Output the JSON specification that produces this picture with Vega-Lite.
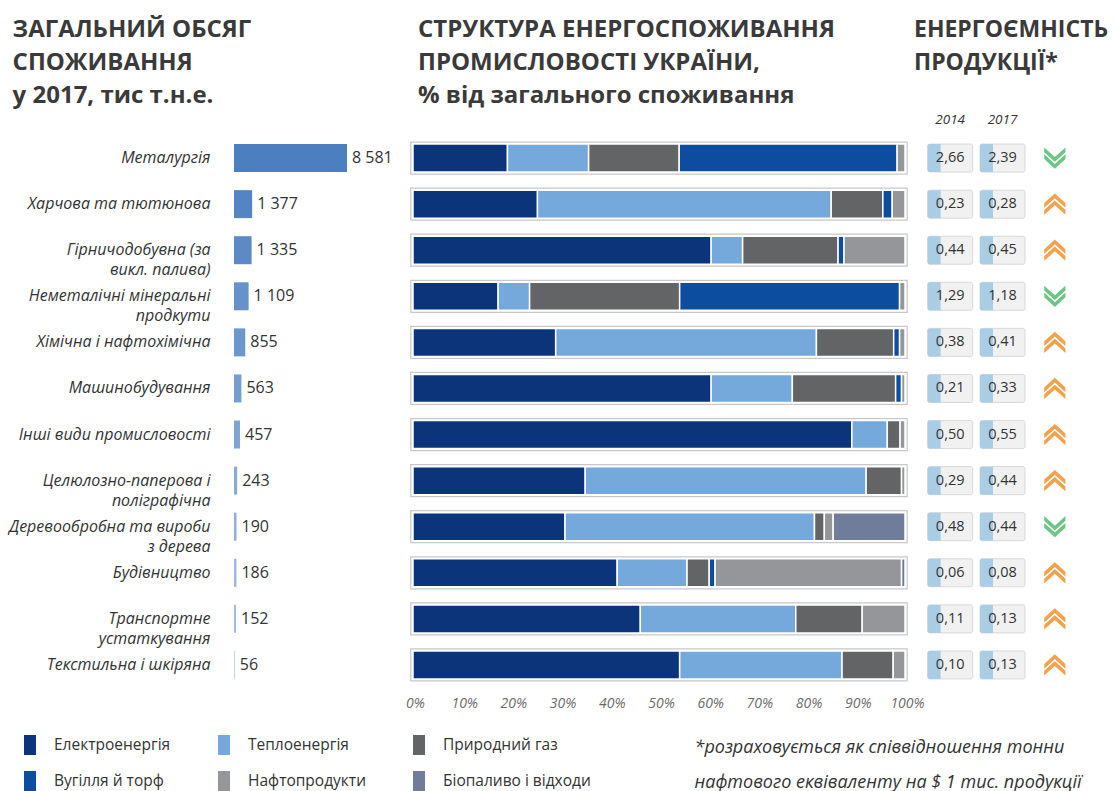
{
  "$schema": "https://vega.github.io/schema/vega-lite/v6.json",
  "background": "white",
  "padding": {"left": 8, "top": 18, "right": 0, "bottom": 0},
  "bounds": "flush",
  "spacing": 19,
  "config": {
    "locale": {"number": {"decimal": ",", "thousands": " ", "grouping": [3], "currency": ["", ""]}},
    "view": {"stroke": null},
    "font": "Open Sans",
    "title": {"font": "Open Sans", "fontSize": 24, "fontWeight": "bold", "color": "#3a3a3a", "anchor": "start", "lineHeight": 33}
  },
  "resolve": {"scale": {"color": "independent", "shape": "independent"}, "legend": {"color": "independent", "shape": "independent"}},
  "datasets": {
    "total": [
      {"industry": "Металургія", "total": 8581, "trend": "down"},
      {"industry": "Харчова та тютюнова", "total": 1377, "trend": "up"},
      {"industry": "Гірничодобувна (за|викл. палива)", "total": 1335, "trend": "up"},
      {"industry": "Неметалічні мінеральні|продкути", "total": 1109, "trend": "down"},
      {"industry": "Хімічна і нафтохімічна", "total": 855, "trend": "up"},
      {"industry": "Машинобудування", "total": 563, "trend": "up"},
      {"industry": "Інші види промисловості", "total": 457, "trend": "up"},
      {"industry": "Целюлозно-паперова і|поліграфічна", "total": 243, "trend": "up"},
      {"industry": "Деревообробна та вироби|з дерева", "total": 190, "trend": "down"},
      {"industry": "Будівництво", "total": 186, "trend": "up"},
      {"industry": "Транспортне|устаткування", "total": 152, "trend": "up"},
      {"industry": "Текстильна і шкіряна", "total": 56, "trend": "up"}
    ],
    "structure": [
      {"industry": "Металургія", "source": "Електроенергія", "share": 19.2},
      {"industry": "Металургія", "source": "Теплоенергія", "share": 16.5},
      {"industry": "Металургія", "source": "Природний газ", "share": 18.4},
      {"industry": "Металургія", "source": "Вугілля й торф", "share": 44.3},
      {"industry": "Металургія", "source": "Нафтопродукти", "share": 1.6},
      {"industry": "Харчова та тютюнова", "source": "Електроенергія", "share": 25.3},
      {"industry": "Харчова та тютюнова", "source": "Теплоенергія", "share": 59.7},
      {"industry": "Харчова та тютюнова", "source": "Природний газ", "share": 10.5},
      {"industry": "Харчова та тютюнова", "source": "Вугілля й торф", "share": 1.9},
      {"industry": "Харчова та тютюнова", "source": "Нафтопродукти", "share": 2.6},
      {"industry": "Гірничодобувна (за|викл. палива)", "source": "Електроенергія", "share": 60.6},
      {"industry": "Гірничодобувна (за|викл. палива)", "source": "Теплоенергія", "share": 6.4},
      {"industry": "Гірничодобувна (за|викл. палива)", "source": "Природний газ", "share": 19.4},
      {"industry": "Гірничодобувна (за|викл. палива)", "source": "Вугілля й торф", "share": 1.2},
      {"industry": "Гірничодобувна (за|викл. палива)", "source": "Нафтопродукти", "share": 12.4},
      {"industry": "Неметалічні мінеральні|продкути", "source": "Електроенергія", "share": 17.3},
      {"industry": "Неметалічні мінеральні|продкути", "source": "Теплоенергія", "share": 6.4},
      {"industry": "Неметалічні мінеральні|продкути", "source": "Природний газ", "share": 30.5},
      {"industry": "Неметалічні мінеральні|продкути", "source": "Вугілля й торф", "share": 44.7},
      {"industry": "Неметалічні мінеральні|продкути", "source": "Нафтопродукти", "share": 1.1},
      {"industry": "Хімічна і нафтохімічна", "source": "Електроенергія", "share": 29.0},
      {"industry": "Хімічна і нафтохімічна", "source": "Теплоенергія", "share": 53.0},
      {"industry": "Хімічна і нафтохімічна", "source": "Природний газ", "share": 15.7},
      {"industry": "Хімічна і нафтохімічна", "source": "Вугілля й торф", "share": 1.2},
      {"industry": "Хімічна і нафтохімічна", "source": "Нафтопродукти", "share": 1.1},
      {"industry": "Машинобудування", "source": "Електроенергія", "share": 60.6},
      {"industry": "Машинобудування", "source": "Теплоенергія", "share": 16.5},
      {"industry": "Машинобудування", "source": "Природний газ", "share": 21.0},
      {"industry": "Машинобудування", "source": "Вугілля й торф", "share": 1.2},
      {"industry": "Машинобудування", "source": "Нафтопродукти", "share": 0.7},
      {"industry": "Інші види промисловості", "source": "Електроенергія", "share": 89.2},
      {"industry": "Інші види промисловості", "source": "Теплоенергія", "share": 7.2},
      {"industry": "Інші види промисловості", "source": "Природний газ", "share": 2.6},
      {"industry": "Інші види промисловості", "source": "Нафтопродукти", "share": 1.0},
      {"industry": "Целюлозно-паперова і|поліграфічна", "source": "Електроенергія", "share": 35.0},
      {"industry": "Целюлозно-паперова і|поліграфічна", "source": "Теплоенергія", "share": 57.1},
      {"industry": "Целюлозно-паперова і|поліграфічна", "source": "Природний газ", "share": 7.2},
      {"industry": "Целюлозно-паперова і|поліграфічна", "source": "Нафтопродукти", "share": 0.7},
      {"industry": "Деревообробна та вироби|з дерева", "source": "Електроенергія", "share": 30.9},
      {"industry": "Деревообробна та вироби|з дерева", "source": "Теплоенергія", "share": 50.7},
      {"industry": "Деревообробна та вироби|з дерева", "source": "Природний газ", "share": 2.0},
      {"industry": "Деревообробна та вироби|з дерева", "source": "Нафтопродукти", "share": 1.8},
      {"industry": "Деревообробна та вироби|з дерева", "source": "Біопаливо і відходи", "share": 14.6},
      {"industry": "Будівництво", "source": "Електроенергія", "share": 41.5},
      {"industry": "Будівництво", "source": "Теплоенергія", "share": 14.2},
      {"industry": "Будівництво", "source": "Природний газ", "share": 4.5},
      {"industry": "Будівництво", "source": "Вугілля й торф", "share": 1.2},
      {"industry": "Будівництво", "source": "Нафтопродукти", "share": 37.9},
      {"industry": "Будівництво", "source": "Біопаливо і відходи", "share": 0.7},
      {"industry": "Транспортне|устаткування", "source": "Електроенергія", "share": 46.2},
      {"industry": "Транспортне|устаткування", "source": "Теплоенергія", "share": 31.6},
      {"industry": "Транспортне|устаткування", "source": "Природний газ", "share": 13.5},
      {"industry": "Транспортне|устаткування", "source": "Нафтопродукти", "share": 8.7},
      {"industry": "Текстильна і шкіряна", "source": "Електроенергія", "share": 54.2},
      {"industry": "Текстильна і шкіряна", "source": "Теплоенергія", "share": 33.0},
      {"industry": "Текстильна і шкіряна", "source": "Природний газ", "share": 10.4},
      {"industry": "Текстильна і шкіряна", "source": "Нафтопродукти", "share": 2.4}
    ],
    "intensity": [
      {"industry": "Металургія", "year": "2014", "value": 2.66},
      {"industry": "Металургія", "year": "2017", "value": 2.39},
      {"industry": "Харчова та тютюнова", "year": "2014", "value": 0.23},
      {"industry": "Харчова та тютюнова", "year": "2017", "value": 0.28},
      {"industry": "Гірничодобувна (за|викл. палива)", "year": "2014", "value": 0.44},
      {"industry": "Гірничодобувна (за|викл. палива)", "year": "2017", "value": 0.45},
      {"industry": "Неметалічні мінеральні|продкути", "year": "2014", "value": 1.29},
      {"industry": "Неметалічні мінеральні|продкути", "year": "2017", "value": 1.18},
      {"industry": "Хімічна і нафтохімічна", "year": "2014", "value": 0.38},
      {"industry": "Хімічна і нафтохімічна", "year": "2017", "value": 0.41},
      {"industry": "Машинобудування", "year": "2014", "value": 0.21},
      {"industry": "Машинобудування", "year": "2017", "value": 0.33},
      {"industry": "Інші види промисловості", "year": "2014", "value": 0.50},
      {"industry": "Інші види промисловості", "year": "2017", "value": 0.55},
      {"industry": "Целюлозно-паперова і|поліграфічна", "year": "2014", "value": 0.29},
      {"industry": "Целюлозно-паперова і|поліграфічна", "year": "2017", "value": 0.44},
      {"industry": "Деревообробна та вироби|з дерева", "year": "2014", "value": 0.48},
      {"industry": "Деревообробна та вироби|з дерева", "year": "2017", "value": 0.44},
      {"industry": "Будівництво", "year": "2014", "value": 0.06},
      {"industry": "Будівництво", "year": "2017", "value": 0.08},
      {"industry": "Транспортне|устаткування", "year": "2014", "value": 0.11},
      {"industry": "Транспортне|устаткування", "year": "2017", "value": 0.13},
      {"industry": "Текстильна і шкіряна", "year": "2014", "value": 0.10},
      {"industry": "Текстильна і шкіряна", "year": "2017", "value": 0.13}
    ]
  },
  "hconcat": [
    {
      "width": 160,
      "height": 553,
      "data": {"name": "total"},
      "title": {"text": ["ЗАГАЛЬНИЙ ОБСЯГ", "СПОЖИВАННЯ", "у 2017, тис т.н.е."], "frame": "bounds", "dx": 4, "offset": 27},
      "encoding": {
        "y": {
          "field": "industry", "type": "nominal",
          "sort": ["Металургія", "Харчова та тютюнова", "Гірничодобувна (за|викл. палива)", "Неметалічні мінеральні|продкути", "Хімічна і нафтохімічна", "Машинобудування", "Інші види промисловості", "Целюлозно-паперова і|поліграфічна", "Деревообробна та вироби|з дерева", "Будівництво", "Транспортне|устаткування", "Текстильна і шкіряна"],
          "scale": {"paddingInner": 0, "paddingOuter": 0},
          "axis": {"title": null, "domain": false, "ticks": false, "labelPadding": 24, "labelFont": "Open Sans", "labelFontStyle": "italic", "labelFontSize": 16, "labelColor": "#333333", "labelExpr": "split(datum.label, '|')", "labelLineHeight": 20, "labelLimit": 300}
        },
        "x": {"field": "total", "type": "quantitative", "scale": {"domain": [0, 12150]}, "axis": null}
      },
      "layer": [
        {
          "mark": {"type": "bar", "height": 28},
          "encoding": {
            "color": {
              "field": "industry", "type": "nominal",
              "sort": ["Металургія", "Харчова та тютюнова", "Гірничодобувна (за|викл. палива)", "Неметалічні мінеральні|продкути", "Хімічна і нафтохімічна", "Машинобудування", "Інші види промисловості", "Целюлозно-паперова і|поліграфічна", "Деревообробна та вироби|з дерева", "Будівництво", "Транспортне|устаткування", "Текстильна і шкіряна"],
              "scale": {"range": ["#4b7fc0", "#5385c4", "#5b8ac6", "#6592c9", "#6b97cc", "#759ecf", "#7ea5d2", "#86abd5", "#8eb1d8", "#97b8db", "#a0bfdf", "#a9c6e3"]},
              "legend": null
            }
          }
        },
        {
          "mark": {"type": "text", "align": "left", "dx": 5, "fontSize": 16, "color": "#333333", "font": "Open Sans"},
          "encoding": {"text": {"field": "total", "type": "quantitative", "format": ",d"}}
        }
      ]
    },
    {
      "width": 492,
      "height": 553,
      "title": {"text": ["СТРУКТУРА ЕНЕРГОСПОЖИВАННЯ", "ПРОМИСЛОВОСТІ УКРАЇНИ,", "% від загального споживання"], "frame": "group", "dx": 5, "offset": 27},
      "layer": [
        {
          "data": {"name": "total"},
          "mark": {"type": "bar", "height": 32, "fill": "white", "stroke": "#c8c8c8", "strokeWidth": 1.2},
          "encoding": {
            "y": {
              "field": "industry", "type": "nominal",
              "sort": ["Металургія", "Харчова та тютюнова", "Гірничодобувна (за|викл. палива)", "Неметалічні мінеральні|продкути", "Хімічна і нафтохімічна", "Машинобудування", "Інші види промисловості", "Целюлозно-паперова і|поліграфічна", "Деревообробна та вироби|з дерева", "Будівництво", "Транспортне|устаткування", "Текстильна і шкіряна"],
              "scale": {"paddingInner": 0, "paddingOuter": 0},
              "axis": null
            },
            "x": {"datum": -0.45, "type": "quantitative", "scale": {"domain": [0, 100]}},
            "x2": {"datum": 100.45}
          }
        },
        {
          "data": {"name": "structure"},
          "transform": [
            {"calculate": "indexof(['Електроенергія', 'Теплоенергія', 'Природний газ', 'Вугілля й торф', 'Нафтопродукти', 'Біопаливо і відходи'], datum.source)", "as": "srcOrder"}
          ],
          "mark": {"type": "bar", "height": 28, "stroke": "white", "strokeWidth": 1.5},
          "encoding": {
            "y": {
              "field": "industry", "type": "nominal",
              "sort": ["Металургія", "Харчова та тютюнова", "Гірничодобувна (за|викл. палива)", "Неметалічні мінеральні|продкути", "Хімічна і нафтохімічна", "Машинобудування", "Інші види промисловості", "Целюлозно-паперова і|поліграфічна", "Деревообробна та вироби|з дерева", "Будівництво", "Транспортне|устаткування", "Текстильна і шкіряна"],
              "axis": null
            },
            "x": {
              "field": "share", "type": "quantitative", "stack": "zero",
              "scale": {"domain": [0, 100]},
              "axis": {
                "values": [0, 10, 20, 30, 40, 50, 60, 70, 80, 90, 100],
                "labelExpr": "datum.value + '%'",
                "domain": false, "ticks": false, "grid": false, "labelFlush": false,
                "labelPadding": 8, "labelOffset": 2,
                "labelFont": "Open Sans", "labelFontStyle": "italic", "labelFontSize": 14, "labelColor": "#6b6b6b",
                "title": ["*розраховується як співвідношення тонни", "нафтового еквіваленту на $ 1 тис. продукції"],
                "titleX": 281, "titleY": 64, "titleAlign": "left", "titleAnchor": null, "titleBaseline": "alphabetic",
                "titleFont": "Open Sans", "titleFontStyle": "italic", "titleFontWeight": "normal", "titleFontSize": 18, "titleColor": "#333333", "titleLineHeight": 35
              }
            },
            "order": {"field": "srcOrder", "type": "quantitative"},
            "color": {
              "field": "source", "type": "nominal",
              "sort": ["Електроенергія", "Теплоенергія", "Природний газ", "Вугілля й торф", "Нафтопродукти", "Біопаливо і відходи"],
              "scale": {
                "domain": ["Електроенергія", "Теплоенергія", "Природний газ", "Вугілля й торф", "Нафтопродукти", "Біопаливо і відходи"],
                "range": ["#0b347a", "#75a9db", "#636466", "#0d4da0", "#959699", "#6f7c9a"]
              },
              "legend": {
                "orient": "none", "legendX": -393, "legendY": 600, "direction": "horizontal", "columns": 3,
                "title": null,
                "symbolType": "M-0.6,-1H0.6V1H-0.6Z", "symbolSize": 400, "symbolStrokeWidth": 0,
                "labelFont": "Open Sans", "labelFontSize": 15.5, "labelColor": "#333333", "labelOffset": 14,
                "rowPadding": 16, "columnPadding": 43, "labelLimit": 400
              }
            }
          }
        }
      ]
    },
    {
      "width": 157,
      "height": 553,
      "title": {"text": ["ЕНЕРГОЄМНІСТЬ", "ПРОДУКЦІЇ*"], "frame": "group", "dx": -10, "offset": 37, "fontSize": 23},
      "encoding": {
        "y": {
          "field": "industry", "type": "nominal",
          "sort": ["Металургія", "Харчова та тютюнова", "Гірничодобувна (за|викл. палива)", "Неметалічні мінеральні|продкути", "Хімічна і нафтохімічна", "Машинобудування", "Інші види промисловості", "Целюлозно-паперова і|поліграфічна", "Деревообробна та вироби|з дерева", "Будівництво", "Транспортне|устаткування", "Текстильна і шкіряна"],
          "scale": {"paddingInner": 0, "paddingOuter": 0},
          "axis": null
        }
      },
      "layer": [
        {
          "data": {"name": "intensity"},
          "mark": {"type": "bar", "width": 45, "height": 28, "fill": "#f1f1f1", "stroke": "#d8d8d8", "strokeWidth": 1, "cornerRadius": 2},
          "encoding": {
            "x": {
              "field": "year", "type": "ordinal",
              "scale": {"domain": ["2014", "2017", "trend"], "paddingInner": 0, "paddingOuter": 0},
              "axis": {"orient": "top", "title": null, "domain": false, "ticks": false, "labelAngle": 0, "labelPadding": 9,
                "labelExpr": "datum.value == 'trend' ? '' : datum.value",
                "labelFont": "Open Sans", "labelFontStyle": "italic", "labelFontSize": 13.5, "labelColor": "#333333"}
            }
          }
        },
        {
          "data": {"name": "intensity"},
          "mark": {"type": "bar", "width": 13, "height": 28, "xOffset": -16, "fill": "#a9cde4", "cornerRadiusTopLeft": 2, "cornerRadiusBottomLeft": 2},
          "encoding": {"x": {"field": "year", "type": "ordinal"}}
        },
        {
          "data": {"name": "intensity"},
          "mark": {"type": "text", "fontSize": 14.5, "color": "#333333", "font": "Open Sans"},
          "encoding": {
            "x": {"field": "year", "type": "ordinal"},
            "text": {"field": "value", "type": "quantitative", "format": ".2f"}
          }
        },
        {
          "data": {"name": "total"},
          "mark": {"type": "point", "filled": true, "size": 450, "opacity": 1, "strokeWidth": 0},
          "encoding": {
            "x": {"datum": "trend", "type": "ordinal"},
            "shape": {
              "field": "trend", "type": "nominal",
              "scale": {"domain": ["up", "down"], "range": ["M-1,-0.1L0,-1L1,-0.1L1,0.35L0,-0.55L-1,0.35Z M-1,0.55L0,-0.35L1,0.55L1,1L0,0.1L-1,1Z", "M-1,0.1L0,1L1,0.1L1,-0.35L0,0.55L-1,-0.35Z M-1,-0.55L0,0.35L1,-0.55L1,-1L0,-0.1L-1,-1Z"]},
              "legend": null
            },
            "color": {
              "field": "trend", "type": "nominal",
              "scale": {"domain": ["up", "down"], "range": ["#f5a04a", "#6cc683"]},
              "legend": null
            }
          }
        }
      ]
    }
  ]
}
